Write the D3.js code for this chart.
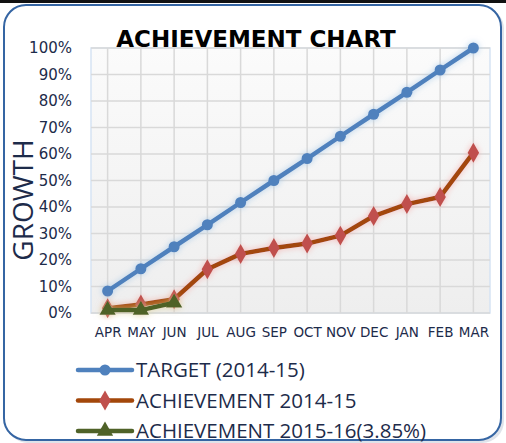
<!DOCTYPE html>
<html>
<head>
<meta charset="utf-8">
<script src="https://cdn.jsdelivr.net/npm/d3@7"></script>
<style>
  body { margin: 0; background: #fff; }
  svg { display: block; }
</style>
</head>
<body>
<script>
const months = ["APR", "MAY", "JUN", "JUL", "AUG", "SEP", "OCT", "NOV", "DEC", "JAN", "FEB", "MAR"];
const target = [8.3, 16.7, 25, 33.3, 41.7, 50, 58.3, 66.7, 75, 83.3, 91.7, 100];
const achieve1415 = [1.8, 3.2, 5.2, 16.5, 22.3, 24.5, 26.2, 29.2, 36.6, 41.1, 43.8, 60.5];
const achieve1516 = [1.1, 1.1, 3.85];
const yTicks = [0, 10, 20, 30, 40, 50, 60, 70, 80, 90, 100];
const legendNames = ["TARGET (2014-15)", "ACHIEVEMENT 2014-15", "ACHIEVEMENT 2015-16(3.85%)"];

const W = 506, H = 443;
const plot = { left: 91, right: 490, top: 48, bottom: 313 };

const svg = d3.select("body").append("svg")
  .attr("width", W)
  .attr("height", H);

const defs = svg.append("defs");

const bg = defs.append("linearGradient")
  .attr("id", "plotbg").attr("x1", 0).attr("y1", 0).attr("x2", 0).attr("y2", 1);
bg.append("stop").attr("offset", "0%").attr("stop-color", "#fbfbfb");
bg.append("stop").attr("offset", "100%").attr("stop-color", "#eeeeee");

function glow(id, color, sd) {
  const f = defs.append("filter").attr("id", id)
    .attr("x", "-20%").attr("y", "-20%").attr("width", "140%").attr("height", "140%");
  f.append("feGaussianBlur").attr("in", "SourceAlpha").attr("stdDeviation", sd).attr("result", "b");
  f.append("feFlood").attr("flood-color", color).attr("flood-opacity", 0.75);
  f.append("feComposite").attr("in2", "b").attr("operator", "in").attr("result", "g");
  const m = f.append("feMerge");
  m.append("feMergeNode").attr("in", "g");
  m.append("feMergeNode").attr("in", "SourceGraphic");
}
glow("glowBlue", "#9dc3e6", 3);
glow("glowRed", "#f4a7a5", 3);
glow("glowGreen", "#d9d08a", 3.5);

// top dark strip, shadow and outer frame
svg.append("rect").attr("x", 0).attr("y", 0).attr("width", W).attr("height", 3).attr("fill", "#111");
svg.append("rect")
  .attr("x", 6).attr("y", 7).attr("width", 498).attr("height", 436)
  .attr("rx", 22).attr("ry", 22)
  .attr("fill", "#dfe3ea");
svg.append("rect")
  .attr("x", 4).attr("y", 5).attr("width", 497).attr("height", 435)
  .attr("rx", 22).attr("ry", 22)
  .attr("fill", "#fff")
  .attr("stroke", "#3565a3")
  .attr("stroke-width", 2);

const x = d3.scalePoint()
  .domain(months)
  .range([plot.left, plot.right])
  .padding(0.5);

const y = d3.scaleLinear()
  .domain([0, 100])
  .range([plot.bottom, plot.top]);

svg.append("rect")
  .attr("x", plot.left).attr("y", plot.top)
  .attr("width", plot.right - plot.left).attr("height", plot.bottom - plot.top)
  .attr("fill", "url(#plotbg)")
  .attr("stroke", "#d6e3f3")
  .attr("stroke-width", 1.5);

// gridlines
svg.append("g")
  .selectAll("line")
  .data(yTicks.slice(1))
  .enter()
  .append("line")
  .attr("x1", plot.left).attr("x2", plot.right)
  .attr("y1", d => y(d)).attr("y2", d => y(d))
  .attr("stroke", "#d9d9d9").attr("stroke-width", 1.5);

svg.append("g")
  .selectAll("line")
  .data(months)
  .enter()
  .append("line")
  .attr("x1", d => x(d)).attr("x2", d => x(d))
  .attr("y1", plot.top).attr("y2", plot.bottom)
  .attr("stroke", "#d9d9d9").attr("stroke-width", 1.5);

svg.append("line")
  .attr("x1", plot.left).attr("x2", plot.right)
  .attr("y1", plot.bottom).attr("y2", plot.bottom)
  .attr("stroke", "#d9d9d9").attr("stroke-width", 1.5);

// axes
const yAxis = svg.append("g")
  .attr("transform", `translate(${plot.left},0)`)
  .call(d3.axisLeft(y).tickValues(yTicks).tickFormat(d => d + "%").tickSize(0).tickPadding(19));
yAxis.select(".domain").remove();
yAxis.selectAll("text")
  .attr("font-family", "DejaVu Sans, sans-serif")
  .attr("font-size", 15)
  .attr("fill", "#1d2b4a");

const xAxis = svg.append("g")
  .attr("transform", `translate(0,${plot.bottom})`)
  .call(d3.axisBottom(x).tickSize(0).tickPadding(14));
xAxis.select(".domain").remove();
xAxis.selectAll("text")
  .attr("font-family", "DejaVu Sans, sans-serif")
  .attr("font-size", 13.5)
  .attr("fill", "#1d2b4a");

// titles
svg.append("text")
  .attr("x", 256).attr("y", 47)
  .attr("text-anchor", "middle")
  .attr("font-family", "DejaVu Sans, sans-serif")
  .attr("font-weight", "bold")
  .attr("font-size", 23)
  .attr("fill", "#000")
  .text("ACHIEVEMENT CHART");

svg.append("text")
  .attr("transform", "translate(33,200) rotate(-90)")
  .attr("text-anchor", "middle")
  .attr("font-family", "Open Sans, sans-serif")
  .attr("font-size", 28)
  .attr("fill", "#1d2b4a")
  .text("GROWTH");

// series
const line = d3.line()
  .x((d, i) => x(months[i]))
  .y(d => y(d));

const series = [
  { name: legendNames[0], values: target, stroke: "#4f81bd", fill: "#4f81bd", shape: d3.symbolCircle, size: 95, glow: "glowBlue" },
  { name: legendNames[1], values: achieve1415, stroke: "#a3470a", fill: "#c0504d", shape: d3.symbolDiamond, size: 115, glow: "glowRed" },
  { name: legendNames[2], values: achieve1516, stroke: "#4f6228", fill: "#4f6228", shape: d3.symbolTriangle, size: 115, glow: "glowGreen" }
];

series.forEach(s => {
  const g = svg.append("g").attr("filter", `url(#${s.glow})`);
  g.append("path")
    .datum(s.values)
    .attr("d", line)
    .attr("fill", "none")
    .attr("stroke", s.stroke)
    .attr("stroke-width", 4.5)
    .attr("stroke-linejoin", "round");
  g.selectAll("path.m")
    .data(s.values)
    .enter()
    .append("path")
    .attr("class", "m")
    .attr("d", d3.symbol().type(s.shape).size(s.size))
    .attr("transform", (d, i) => `translate(${x(months[i])},${y(d)})`)
    .attr("fill", s.fill);
});

// legend
const legend = svg.append("g");
series.forEach((s, i) => {
  const cy = 370 + i * 30.5;
  legend.append("line")
    .attr("x1", 78).attr("x2", 132)
    .attr("y1", cy).attr("y2", cy)
    .attr("stroke", s.stroke)
    .attr("stroke-width", 4.5)
    .attr("stroke-linecap", "round");
  legend.append("path")
    .attr("d", d3.symbol().type(s.shape).size(s.size))
    .attr("transform", `translate(105,${cy})`)
    .attr("fill", s.fill);
  legend.append("text")
    .attr("x", 136).attr("y", cy)
    .attr("dy", "0.36em")
    .attr("font-family", "Open Sans, sans-serif")
    .attr("font-size", 20.5)
    .attr("fill", "#1d2b4a")
    .text(s.name);
});
</script>
</body>
</html>
